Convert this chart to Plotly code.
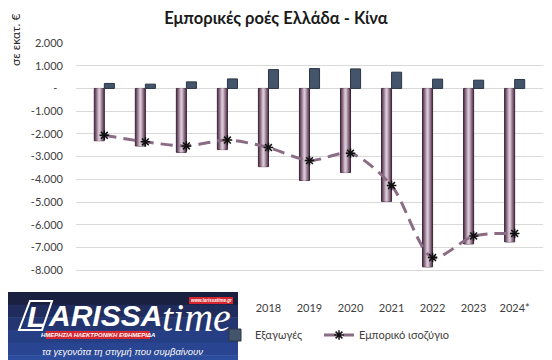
import plotly.graph_objects as go

years = ["2014", "2015", "2016", "2017", "2018", "2019", "2020", "2021", "2022", "2023", "2024*"]
imports = [-2300, -2530, -2810, -2690, -3440, -4050, -3700, -4970, -7850, -6840, -6750]
exports = [220, 190, 290, 420, 830, 875, 860, 715, 410, 365, 395]
balance = [-2060, -2350, -2530, -2270, -2600, -3175, -2850, -4270, -7440, -6490, -6380]

tick_vals = [2000, 1000, 0, -1000, -2000, -3000, -4000, -5000, -6000, -7000, -8000, -9000]
tick_text = ["2.000", "1.000", "-\u00a0\u00a0", "-1.000", "-2.000", "-3.000", "-4.000",
             "-5.000", "-6.000", "-7.000", "-8.000", ""]
# first four year labels sit under the newspaper logo in the reference
shown_years = years[4:]

# page body has an 8px margin: figure coordinates = screen - 8
OFF = 8
W, H = 544, 352
L, R, T, B = 68, 9, 35, 67
PW, PH = W - L - R, H - T - B


def px(sx):
    return (sx - OFF - L) / PW


def py(sy):
    return (H - B - (sy - OFF)) / PH


fig = go.Figure()

BW = 0.245
grad = ["#5a3b55", "#7a5c74", "#997d92", "#b9a2b3", "#d8c9d4"]
n = len(grad)
for i, c in enumerate(grad):
    w = BW * (1 - i / n)
    off = -BW + (BW - w) / 2
    fig.add_trace(go.Bar(
        x=years, y=imports, name="Εισαγωγές", width=w, offset=off,
        marker=dict(color=c, line=dict(color="#3e2539" if i == 0 else c, width=1 if i == 0 else 0)),
        showlegend=False,
    ))

fig.add_trace(go.Bar(
    x=years, y=exports, name="Εξαγωγές", width=BW, offset=0, legend="legend",
    marker=dict(color="#44546A", line=dict(color="#2c3646", width=1)),
))

fig.add_trace(go.Scatter(
    x=years, y=balance, name="Εμπορικό ισοζύγιο", mode="lines+markers", legend="legend2",
    line=dict(color="#8a6c85", width=3, dash="12px,7px", shape="spline", smoothing=0.8),
    marker=dict(symbol="asterisk-open", size=8, color="#111111", line=dict(color="#111111", width=1.5)),
))

shapes = []
annots = []
bands = ["#1a2040", "#1f2c5c", "#233672", "#263f84", "#294592", "#2c4c9e"]
y_top, y_bot = 292, 368
bh = (y_bot - y_top) / len(bands)
for i, c in enumerate(bands):
    shapes.append(dict(type="rect", xref="paper", yref="paper", layer="above",
                       x0=px(0), x1=px(238), y0=py(y_top + (i + 1) * bh + 0.5), y1=py(y_top + i * bh),
                       fillcolor=c, line=dict(width=0)))
shapes.append(dict(type="path", xref="paper", yref="paper", layer="above",
                   path=f"M {px(30)},{py(301)} L {px(52)},{py(301)} L {px(42)},{py(330)} L {px(19)},{py(330)} Z",
                   fillcolor="rgba(0,0,0,0)", line=dict(color="white", width=2)))
shapes.append(dict(type="rect", xref="paper", yref="paper", layer="above",
                   x0=px(46), x1=px(150), y0=py(339), y1=py(331),
                   fillcolor="#d7262e", line=dict(width=0)))
shapes.append(dict(type="rect", xref="paper", yref="paper", layer="above",
                   x0=px(189), x1=px(233), y0=py(304), y1=py(297),
                   fillcolor="#d7262e", line=dict(width=0)))


def note(text, sx, sy, size, family="Liberation Sans", color="white", xanchor="center", angle=0):
    return dict(text=text, x=px(sx), y=py(sy), xref="paper", yref="paper", showarrow=False,
                xanchor=xanchor, yanchor="middle", textangle=angle,
                font=dict(family=family, size=size, color=color))


annots += [
    note("<b><i>L</i></b>", 36, 316, 30),
    note("<b><i>ARISSA</i></b>", 46, 315, 30, xanchor="left"),
    note("<i>time</i>", 160, 317, 40, family="Liberation Serif", xanchor="left"),
    note("<b><i>ΗΜΕΡΗΣΙΑ ΗΛΕΚΤΡΟΝΙΚΗ ΕΦΗΜΕΡΙΔΑ</i></b>", 98, 335, 6),
    note("<b><i>www.larissatime.gr</i></b>", 211, 300.5, 4.5),
    note("<i>τα γεγονότα τη στιγμή που συμβαίνουν</i>", 122, 351, 9.5),
    note("σε εκατ. €", 16, 40, 12, family="Lato", color="#262626", angle=-90),
]

fig.update_layout(
    width=W, height=H,
    margin=dict(l=L, r=R, t=T, b=B, autoexpand=False),
    paper_bgcolor="white", plot_bgcolor="white",
    barmode="overlay",
    font=dict(family="Lato", size=11, color="#404040"),
    title=dict(text="<b>Εμπορικές ροές Ελλάδα - Κίνα</b>", x=(276 - OFF) / W, xref="container",
               xanchor="center", y=1 - (18 - OFF) / H, yref="container", yanchor="middle",
               font=dict(family="Lato", size=16.5, color="#1a1a1a")),
    xaxis=dict(type="category", showgrid=False, showline=False, ticks="",
               tickmode="array", tickvals=shown_years, ticktext=shown_years, ticklabelstandoff=7,
               tickfont=dict(size=11, color="#404040"), automargin=False),
    yaxis=dict(range=[-9000, 2000], tickvals=tick_vals, ticktext=tick_text, showgrid=True,
               gridcolor="#d9d9d9", gridwidth=1, zeroline=False, ticklabelstandoff=12,
               tickfont=dict(size=11, color="#404040"), automargin=False),
    legend=dict(orientation="h", xref="container", yref="container",
                x=(215 - OFF) / W, y=1 - (335 - OFF) / H, xanchor="left", yanchor="middle",
                font=dict(size=11, color="#404040"), bgcolor="rgba(0,0,0,0)"),
    legend2=dict(orientation="h", xref="container", yref="container",
                 x=(319 - OFF) / W, y=1 - (335 - OFF) / H, xanchor="left", yanchor="middle",
                 font=dict(size=11, color="#404040"), bgcolor="rgba(0,0,0,0)"),
    shapes=shapes, annotations=annots,
)

fig.write_html("out.html")
